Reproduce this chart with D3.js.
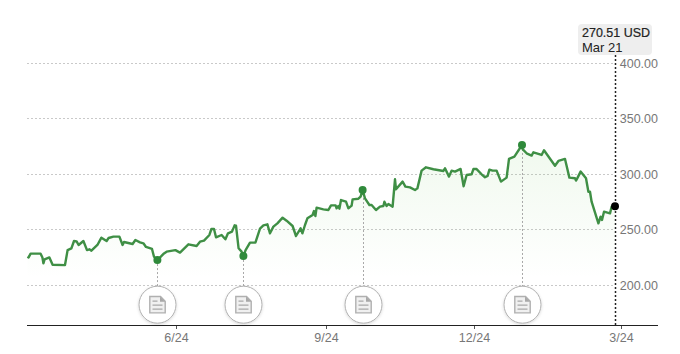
<!DOCTYPE html>
<html>
<head>
<meta charset="utf-8">
<script src="https://cdn.jsdelivr.net/npm/d3@7"></script>
<style>
  html, body { margin: 0; padding: 0; background: #fff; }
  text { font-family: "Liberation Sans", Arial, sans-serif; }
</style>
</head>
<body>
<div id="chart"></div>
<script>
// x is trading session count from the start of the window
const sessions = [0.2,0.8,1.8,6.8,7.7,8.2,8.8,11.2,12.8,19,20.3,22.2,23.5,24.8,25.8,28.2,30,31.2,32.2,35.2,37.2,39.8,40.8,43.2,46.2,47.8,48.5,52.8,54.2,56.5,58.2,59.5,62.5,63.5,65.2,68.5,69.8,74.2,76.5,80.7,84.8,86.5,88.5,91.2,92.2,93.5,94.5,97.3,99.2,100.5,102.5,103.8,104.5,105.8,107.3,108.2,109.3,111.5,114.2,116.5,118.2,120.2,121.5,123.2,125.2,127.8,129.8,132.8,134.5,136.8,137.7,139,140.2,142.8,143.5,144.2,144.8,148.2,150.7,152,154.3,154.8,155.7,156.2,157,159.5,160.7,162.3,162.8,165.7,166.8,167.8,169,171.2,172.3,174.5,176.5,178.2,178.7,179.8,180.7,182.8,184,184.5,187.8,189.2,191.5,194,195.2,197.3,199.5,203.2,208.2,209,211,212.3,214,216.8,218.3,219.8,222.3,223.2,224.8,227.3,229,230.3,231.2,232.8,234.8,237,239.8,241,243.7,247.5,247.8,249.8,252.3,253.2,257.3,258.5,264,265.7,269,271.2,274,274.5,275.3,276.8,279.5,280.7,281.5,282.3,285.7,286.8,287.5,288.5,291.5,292.3,294];
const prices = [225,224.4,227.8,227.8,224.4,219,222.6,224.4,217.8,217.5,231,232.6,239.2,238.9,235.6,239.2,231,231.7,230.5,235.6,242.2,239.2,241.9,243.1,243.1,235.6,238.3,236.5,240.1,238,237.1,233.8,232,225,222,228,229.6,231,228.7,236.2,234.7,238.6,239.5,244.6,250,250,242.5,244.6,240.7,246.1,247.6,253.3,253,232.6,229.6,225.7,231,237.7,237.7,250.3,253.3,254.2,246.1,252.1,255.1,260.2,257.5,252.7,243.7,250.6,246.1,253.6,259.6,262.6,266.2,261.7,269.2,267.7,267.1,271.3,271.3,268.6,270.7,268.3,276.1,274.6,268.6,271,276.7,277.3,279.1,285.1,277.6,271.6,271.6,267.1,270.1,270.7,274.6,270.7,272.5,270.1,294.8,285.8,292.7,288.2,287.5,285.1,286.6,302.6,305.6,303.8,302.3,304.7,297.2,302.6,301.7,304.1,288.5,298.7,299.3,304,304,299.3,296.6,297.8,303.5,302.6,302.6,292.7,296.3,313.1,315.2,325.7,322,318.2,316.1,319.1,316.7,320.9,307,311.3,313.1,296.3,295.7,293.6,296.3,301.7,295.7,283.6,283.6,274.6,255.1,261.1,258.1,265.6,264.1,270.1,270.51];

const eventSessions = [65.2, 108.2, 167.8, 247.5];
const eventPrices = [222, 225.7, 285.1, 325.7];

const yTicks = [200, 250, 300, 350, 400];
const xTickSessions = [74.5, 149.5, 223.5, 297];
const xTickLabels = ["6/24", "9/24", "12/24", "3/24"];

const lastPrice = "270.51 USD";
const lastDate = "Mar 21";

const width = 680, height = 354;
const axisY = 325, left = 27, plotRight = 615, axisRight = 658;

const x = d3.scaleLinear().domain([0, 294]).range([left, plotRight]);
const y = d3.scaleLinear().domain([200, 400]).range([284.5, 62.5]);

const svg = d3.select("#chart").append("svg")
  .attr("width", width)
  .attr("height", height)
  .style("display", "block");

const defs = svg.append("defs");
const grad = defs.append("linearGradient")
  .attr("id", "areaFill")
  .attr("gradientUnits", "userSpaceOnUse")
  .attr("x1", 0).attr("x2", 0)
  .attr("y1", y(330)).attr("y2", y(205));
grad.append("stop").attr("offset", 0).attr("stop-color", "#74c860").attr("stop-opacity", 0.11);
grad.append("stop").attr("offset", 1).attr("stop-color", "#74c860").attr("stop-opacity", 0);

const shadow = defs.append("filter").attr("id", "btnShadow")
  .attr("x", "-30%").attr("y", "-30%").attr("width", "160%").attr("height", "160%");
shadow.append("feDropShadow")
  .attr("dx", 0).attr("dy", 1).attr("stdDeviation", 1.5)
  .attr("flood-color", "#000").attr("flood-opacity", 0.15);

const points = sessions.map((s, i) => [s, prices[i]]);

// gridlines
svg.append("g")
  .selectAll("line")
  .data(yTicks)
  .join("line")
  .attr("x1", left)
  .attr("x2", plotRight)
  .attr("y1", d => Math.round(y(d)) + 0.5)
  .attr("y2", d => Math.round(y(d)) + 0.5)
  .attr("stroke", "#c9c9c9")
  .attr("stroke-width", 1)
  .attr("stroke-dasharray", "2,2");

// y labels
svg.append("g")
  .attr("text-anchor", "end")
  .attr("font-size", 12.5)
  .attr("fill", "#777")
  .selectAll("text")
  .data(yTicks)
  .join("text")
  .attr("x", 658)
  .attr("y", d => y(d) + 5)
  .text(d => d.toFixed(2));

const area = d3.area()
  .x(d => x(d[0]))
  .y0(y(200))
  .y1(d => y(d[1]));

svg.append("path")
  .attr("d", area(points))
  .attr("fill", "url(#areaFill)");

// stems from events down to the buttons
svg.append("g")
  .selectAll("line")
  .data(eventSessions.map((s, i) => [s, eventPrices[i]]))
  .join("line")
  .attr("x1", d => Math.round(x(d[0])) + 0.5)
  .attr("x2", d => Math.round(x(d[0])) + 0.5)
  .attr("y1", d => y(d[1]))
  .attr("y2", 288)
  .attr("stroke", "#a8a8a8")
  .attr("stroke-width", 1)
  .attr("stroke-dasharray", "2,2");

const line = d3.line().x(d => x(d[0])).y(d => y(d[1]));

svg.append("path")
  .attr("d", line(points))
  .attr("fill", "none")
  .attr("stroke", "#3f8f45")
  .attr("stroke-width", 2.4)
  .attr("stroke-linejoin", "round");

svg.append("g")
  .selectAll("circle")
  .data(eventSessions.map((s, i) => [s, eventPrices[i]]))
  .join("circle")
  .attr("cx", d => x(d[0]))
  .attr("cy", d => y(d[1]))
  .attr("r", 4)
  .attr("fill", "#2f8a3b");

// x axis
const xAxis = d3.axisBottom(x)
  .tickValues(xTickSessions)
  .tickFormat((d, i) => xTickLabels[i])
  .tickSize(4)
  .tickPadding(4);

const axisG = svg.append("g")
  .attr("transform", `translate(0,${axisY})`)
  .call(xAxis);
axisG.select(".domain").remove();
axisG.selectAll("line").attr("stroke", "#555");
axisG.selectAll("text")
  .attr("fill", "#777")
  .attr("font-size", 12.5)
  .style("font-family", '"Liberation Sans", Arial, sans-serif');

svg.append("line")
  .attr("x1", left).attr("x2", axisRight)
  .attr("y1", axisY + 0.5).attr("y2", axisY + 0.5)
  .attr("stroke", "#222")
  .attr("stroke-width", 1);

// document buttons
const btn = svg.append("g")
  .selectAll("g")
  .data(eventSessions)
  .join("g")
  .attr("transform", d => `translate(${Math.round(x(d)) + 0.5},304.7)`);

btn.append("circle")
  .attr("r", 18.5)
  .attr("fill", "#fff")
  .attr("stroke", "#b0b0b0")
  .attr("stroke-width", 1)
  .attr("filter", "url(#btnShadow)");

btn.append("path")
  .attr("d", "M-7.7,-8.2H3L7.7,-3.5V8.2H-7.7Z")
  .attr("fill", "#f0f0f0")
  .attr("stroke", "#b0b0b0")
  .attr("stroke-width", 1.4);
btn.append("path")
  .attr("d", "M2.5,-8.2L7.7,-3H2.5Z")
  .attr("fill", "#a8a8a8");
btn.append("path")
  .attr("d", "M-5,-3.5H0M-5,0.5H5M-5,4.5H5")
  .attr("stroke", "#a8a8a8")
  .attr("stroke-width", 1.2)
  .attr("fill", "none");

// last value marker and crosshair
svg.append("line")
  .attr("x1", x(294) + 0.5).attr("x2", x(294) + 0.5)
  .attr("y1", 55).attr("y2", axisY)
  .attr("stroke", "#222")
  .attr("stroke-width", 1.5)
  .attr("stroke-dasharray", "2,2");

svg.append("circle")
  .attr("cx", x(294))
  .attr("cy", y(prices[prices.length - 1]))
  .attr("r", 4)
  .attr("fill", "#000");

svg.append("rect")
  .attr("x", 578).attr("y", 24)
  .attr("width", 74).attr("height", 31)
  .attr("rx", 4)
  .attr("fill", "#eeeeee");

svg.append("text")
  .attr("x", 582).attr("y", 36.5)
  .attr("font-size", 13)
  .attr("textLength", 68)
  .attr("lengthAdjust", "spacingAndGlyphs")
  .attr("fill", "#222")
  .attr("stroke", "#222")
  .attr("stroke-width", 0.2)
  .text(lastPrice);

svg.append("text")
  .attr("x", 582).attr("y", 51.5)
  .attr("font-size", 13)
  .attr("fill", "#222")
  .text(lastDate);
</script>
</body>
</html>
